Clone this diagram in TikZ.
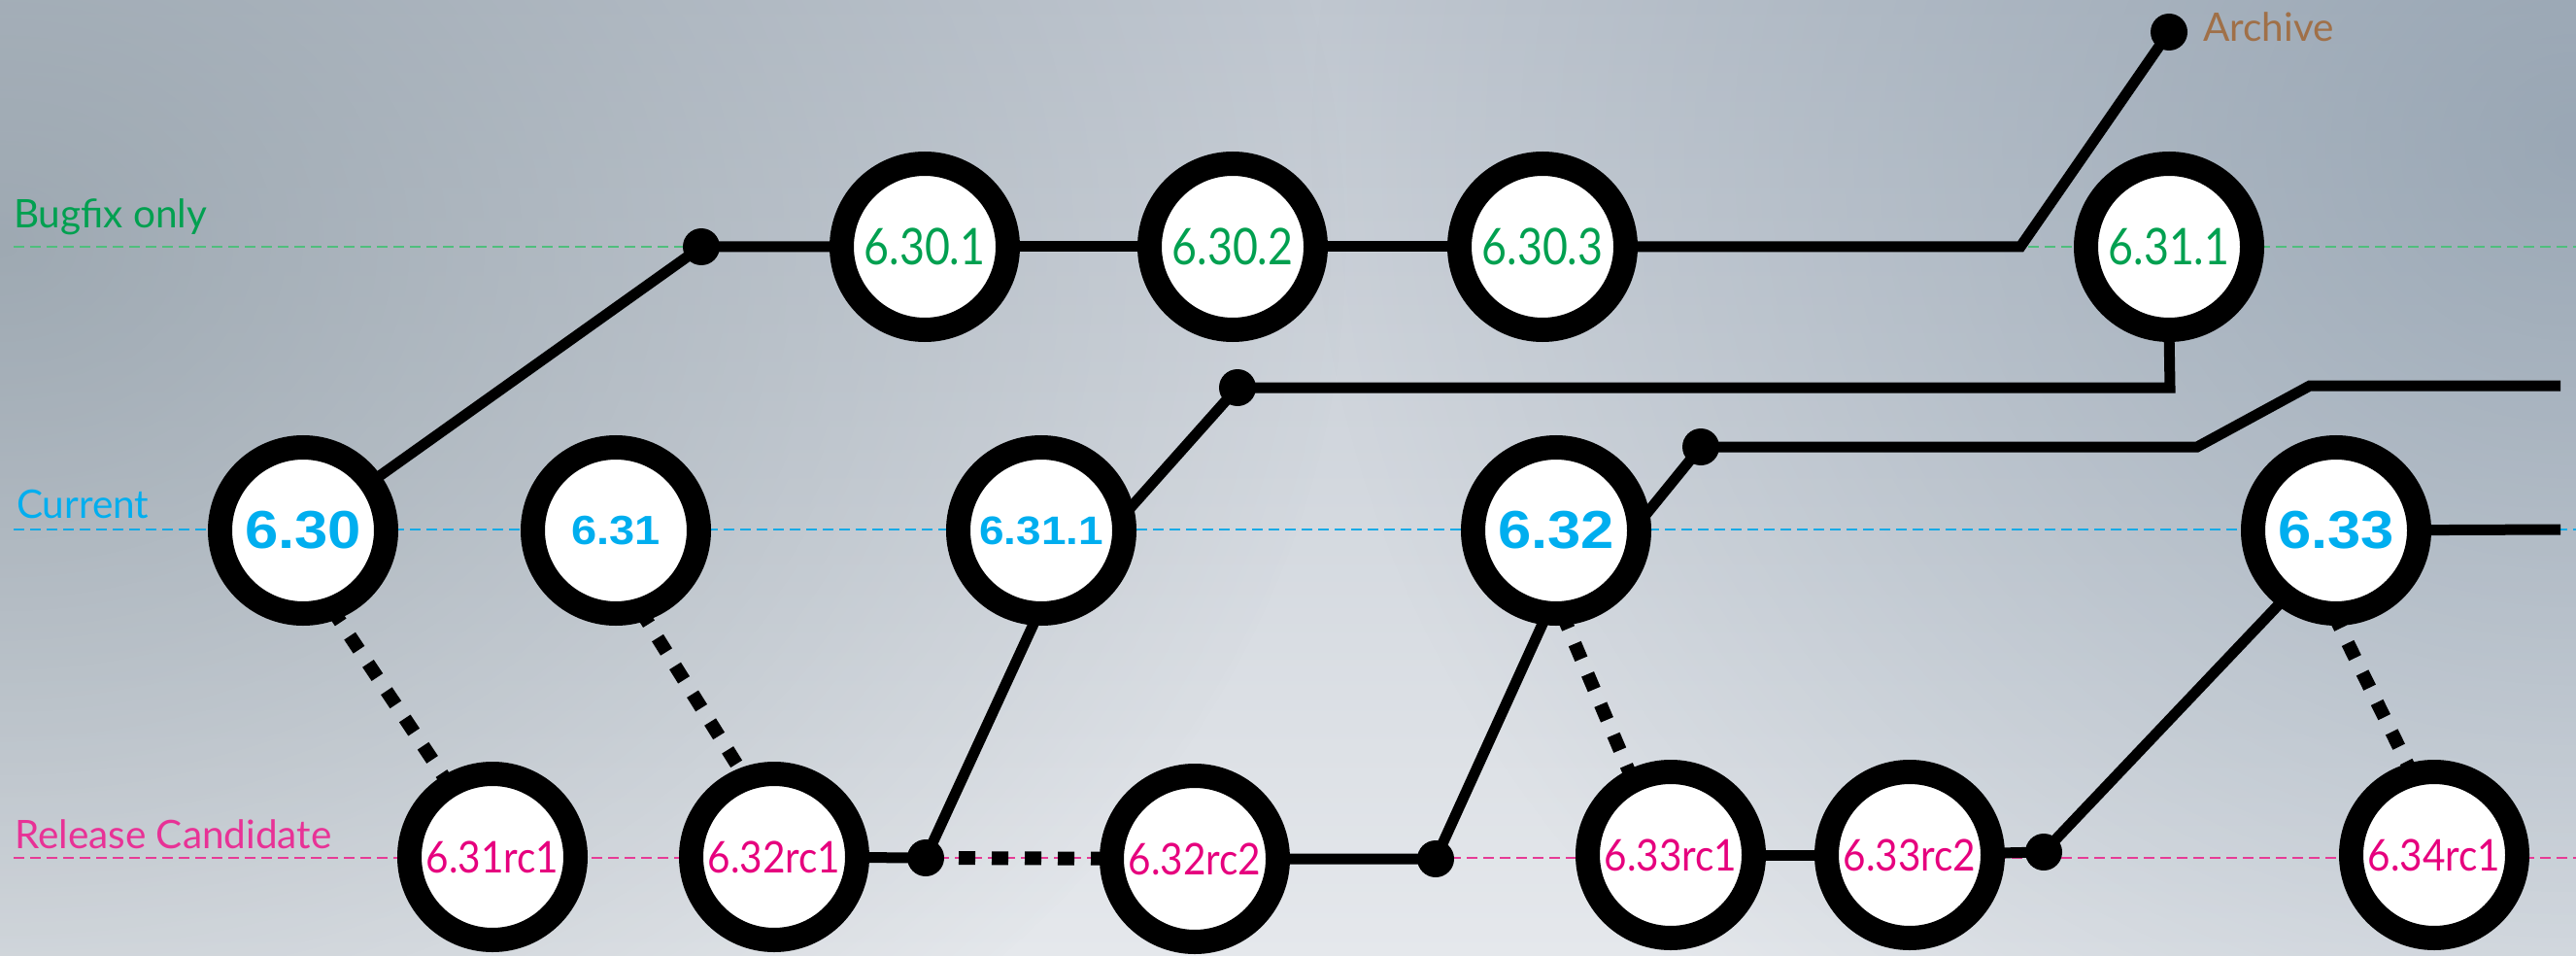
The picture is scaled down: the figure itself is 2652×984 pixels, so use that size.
\documentclass[tikz,border=0pt]{standalone}
\usepackage{fontspec}
\setmainfont{Lato}
\newfontfamily\latofont{Lato}
\newfontfamily\numfont[FakeStretch=0.86]{Lato}
\newfontfamily\rcfont[FakeStretch=0.9]{Lato}
\newfontfamily\arialfont{Liberation Sans}
\newfontfamily\arialwide[FakeStretch=1.12]{Liberation Sans}
\usetikzlibrary{fadings}
\definecolor{bfgreen}{RGB}{0,160,80}
\definecolor{bfguide}{RGB}{80,190,125}
\definecolor{curblue}{RGB}{0,174,239}
\definecolor{curguide}{RGB}{20,170,230}
\definecolor{rcpink}{RGB}{230,0,126}
\definecolor{rclabel}{RGB}{232,50,150}
\definecolor{rcguide}{RGB}{230,60,150}
\definecolor{archbrown}{RGB}{160,112,72}
\definecolor{bgtop}{RGB}{192,199,208}
\definecolor{bgmid}{RGB}{201,206,214}
\definecolor{bgbot}{RGB}{229,232,236}
\definecolor{bgleft}{RGB}{140,153,163}
\definecolor{bgright}{RGB}{125,143,160}
\tikzfading[name=radfade, inner color=transparent!0, outer color=transparent!100]
\pgfdeclarelayer{bg}
\pgfdeclarelayer{lines}
\pgfsetlayers{bg,lines,main}
\begin{document}
\begin{tikzpicture}[x=1pt,y=-1pt,
  ver/.style={circle, draw=black, line width=25pt, fill=white, minimum size=171pt, inner sep=0pt, outer sep=0pt},
  bf/.style={ver, text=bfgreen, font=\numfont\fontsize{52}{52}\selectfont},
  rc/.style={ver, text=rcpink, font=\rcfont\fontsize{45}{45}\selectfont},
  cur/.style={ver, text=curblue, font=\arialwide\bfseries\fontsize{55}{55}\selectfont},
  jdot/.style={circle, fill=black, minimum size=38pt, inner sep=0pt},
  conn/.style={line width=11pt},
  dotline/.style={line width=14pt, dash pattern=on 17pt off 17pt},
  guide/.style={line width=2.5pt, dash pattern=on 11pt off 6pt},
  lbl/.style={anchor=base west, inner sep=0pt, font=\latofont\fontsize{40.5}{40.5}\selectfont}
]
\useasboundingbox (0,0) rectangle (2652,984);
\begin{pgfonlayer}{bg}
  \shade[top color=bgtop, middle color=bgmid, bottom color=bgbot] (0,0) rectangle (2652,984);
  \fill[bgleft, path fading=radfade, opacity=0.7] (0,250) ellipse [x radius=1400, y radius=1100];
  \fill[bgright, path fading=radfade, opacity=0.6] (2652,150) ellipse [x radius=1300, y radius=1200];
  \draw[guide, bfguide] (14,254) -- (2652,254);
  \draw[guide, curguide] (14,545) -- (2652,545);
  \draw[guide, rcguide] (14,883) -- (2652,883);
\end{pgfonlayer}

% row labels
\node[lbl, text=bfgreen] (lbf) at (14,235) {Bugfix only};
\node[lbl, text=curblue] (lcur) at (17,533) {Current};
\node[lbl, text=rclabel] (lrc) at (15,873) {Release Candidate};
\node[lbl, text=archbrown] (larch) at (2268,43) {Archive};

% current row
\node[cur] (c630) at (312,546) {6.30};
\node[cur, font=\arialwide\bfseries\fontsize{42}{42}\selectfont] (c631) at (634,546) {6.31};
\node[cur, font=\arialwide\bfseries\fontsize{41}{41}\selectfont] (c6311) at (1072,546) {6.31.1};
\node[cur] (c632) at (1602,546) {6.32};
\node[cur] (c633) at (2405,546) {6.33};

% bugfix row
\node[bf] (b6301) at (952,254) {6.30.1};
\node[bf] (b6302) at (1269,254) {6.30.2};
\node[bf] (b6303) at (1588,254) {6.30.3};
\node[bf] (b6311) at (2233,254) {6.31.1};

% release candidate row
\node[rc] (r631) at (507,882) {6.31rc1};
\node[rc] (r632a) at (797,882) {6.32rc1};
\node[rc] (r632b) at (1230,884) {6.32rc2};
\node[rc] (r633a) at (1720,880) {6.33rc1};
\node[rc] (r633b) at (1966,880) {6.33rc2};
\node[rc] (r634) at (2506,880) {6.34rc1};

% junction dots
\node[jdot] (d1) at (722,254) {};
\node[jdot] (d2) at (1274,399) {};
\node[jdot] (d3) at (1751,460) {};
\node[jdot] (d4) at (953,883) {};
\node[jdot] (d5) at (1478,884) {};
\node[jdot] (d6) at (2104,877) {};
\node[jdot] (arch) at (2233,33) {};

\coordinate (k1) at (2080,254);
\coordinate (k2) at (2234,399);
\coordinate (k3) at (2262,460);
\coordinate (k4) at (2378,397);
\coordinate (k5) at (2636,397);
\coordinate (k6) at (2636,545);

\begin{pgfonlayer}{lines}
  \draw[conn] (c630) -- (d1.center) -- (b6301);
  \draw[conn] (b6301) -- (b6302);
  \draw[conn] (b6302) -- (b6303);
  \draw[conn] (b6303) -- (k1) -- (arch.center);
  \draw[conn] (b6311.south) -- (k2) -- (d2.center) -- (c6311.10);
  \draw[conn] (c6311.-92) -- (d4.center);
  \draw[conn] (r632a) -- (d4.center);
  \draw[dotline] (d4.center) -- (r632b);
  \draw[conn] (r632b) -- (d5.center) -- (c632.-96);
  \draw[conn] (c632.5) -- (d3.center) -- (k3) -- (k4) -- (k5);
  \draw[conn] (c633) -- (k6);
  \draw[conn] (r633a) -- (r633b);
  \draw[conn] (r633b) -- (d6.center) -- (c633.-127);
  \draw[dotline] (c630.-70) -- (r631.121);
  \draw[dotline] (c631.-73) -- (r632a.110);
  \draw[dotline] (c632.-86) -- (r633a.117);
  \draw[dotline] (c633.-92) -- (r634.105);
\end{pgfonlayer}
\end{tikzpicture}
\end{document}
